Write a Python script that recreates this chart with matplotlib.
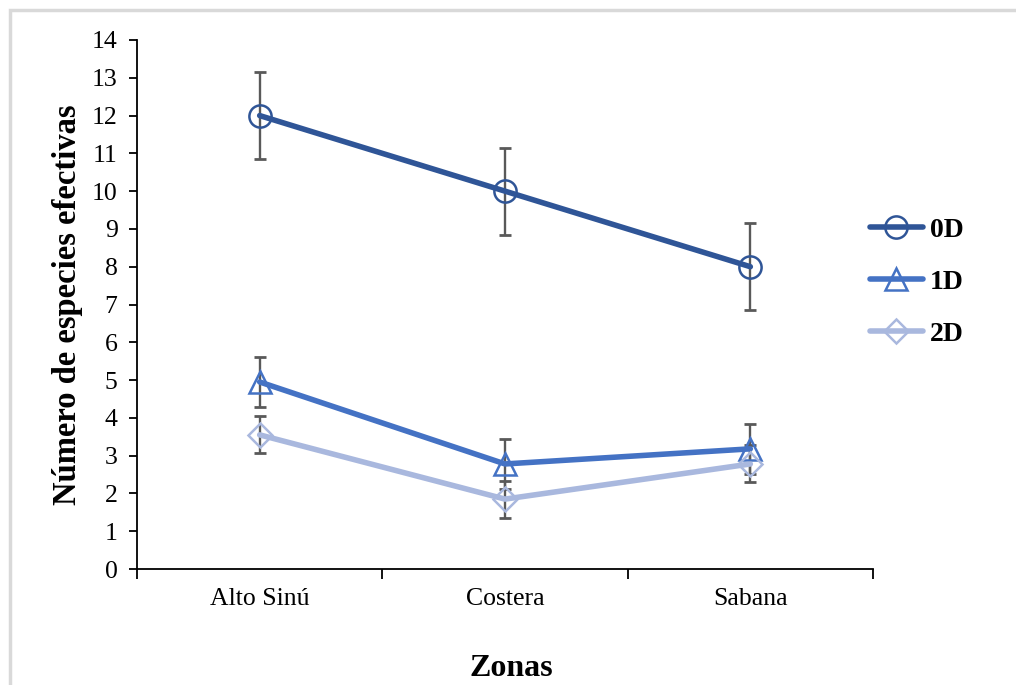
import numpy as np
import matplotlib.pyplot as plt
from matplotlib.patches import Rectangle

# data
zonas = ["Alto Sinú", "Costera", "Sabana"]
d0 = [12.0, 10.0, 8.0]
d0_err = [1.15, 1.15, 1.15]
d1 = [4.95, 2.78, 3.18]
d1_err = [0.67, 0.67, 0.67]
d2 = [3.55, 1.85, 2.78]
d2_err = [0.49, 0.49, 0.49]

plt.rcParams['font.family'] = ['Liberation Serif', 'DejaVu Serif']

fig = plt.figure(figsize=(10.16, 6.85), dpi=100)
ax = fig.add_axes([137/1016, 1 - 569/685, (873 - 137)/1016, (569 - 40)/685])

# light grey frame around the chart area
fig.patches.append(Rectangle((10/1016, -0.1), 1.2, 1 - 10/685 + 0.1,
                             transform=fig.transFigure, fill=False,
                             edgecolor='#d9d9d9', linewidth=2.5))

x = np.arange(len(zonas))
series = [
    (d0, d0_err, '#2f5597', 'o', '0D', 16),
    (d1, d1_err, '#4472c4', '^', '1D', 16),
    (d2, d2_err, '#a9b8de', 'D', '2D', 12),
]
for vals, err, col, mk, lab, ms in series:
    ax.errorbar(x, vals, yerr=err, fmt='none', ecolor='#595959',
                elinewidth=1.7, capsize=4.5, capthick=2, zorder=2)
    ax.plot(x, vals, color=col, linewidth=4, marker=mk, markersize=ms,
            markerfacecolor='none', markeredgecolor=col, markeredgewidth=1.8,
            label=lab, zorder=3, solid_capstyle='round')

ax.set_xlim(-0.5, 2.5)
ax.set_ylim(0, 14)
ax.set_yticks(range(0, 15))
ax.set_xticks(x)
ax.set_xticklabels(zonas)
ax.set_xticks([-0.5, 0.5, 1.5, 2.5], minor=True)
ax.tick_params(axis='x', which='major', length=0, labelsize=18.5, pad=14)
ax.tick_params(axis='x', which='minor', length=7, width=1.3, direction='out')
ax.tick_params(axis='y', length=6, width=1.3, labelsize=18.5, pad=8)
for s in ['top', 'right']:
    ax.spines[s].set_visible(False)
for s in ['left', 'bottom']:
    ax.spines[s].set_linewidth(1.3)

ax.set_ylabel("Número de especies efectivas", fontsize=23.5, fontweight='bold')
ax.yaxis.set_label_coords(-54/736, 0.5)
fig.text(511/1016, 1 - 668/685, "Zonas", fontsize=23, fontweight='bold',
         ha='center', va='center')

leg = fig.legend(loc='center left', bbox_to_anchor=(845/1016, 1 - 282/685),
                 frameon=False, prop={'size': 20, 'weight': 'bold'},
                 handlelength=1.9, handletextpad=0.25, labelspacing=0.95)

fig.savefig("out.png", dpi=100)
